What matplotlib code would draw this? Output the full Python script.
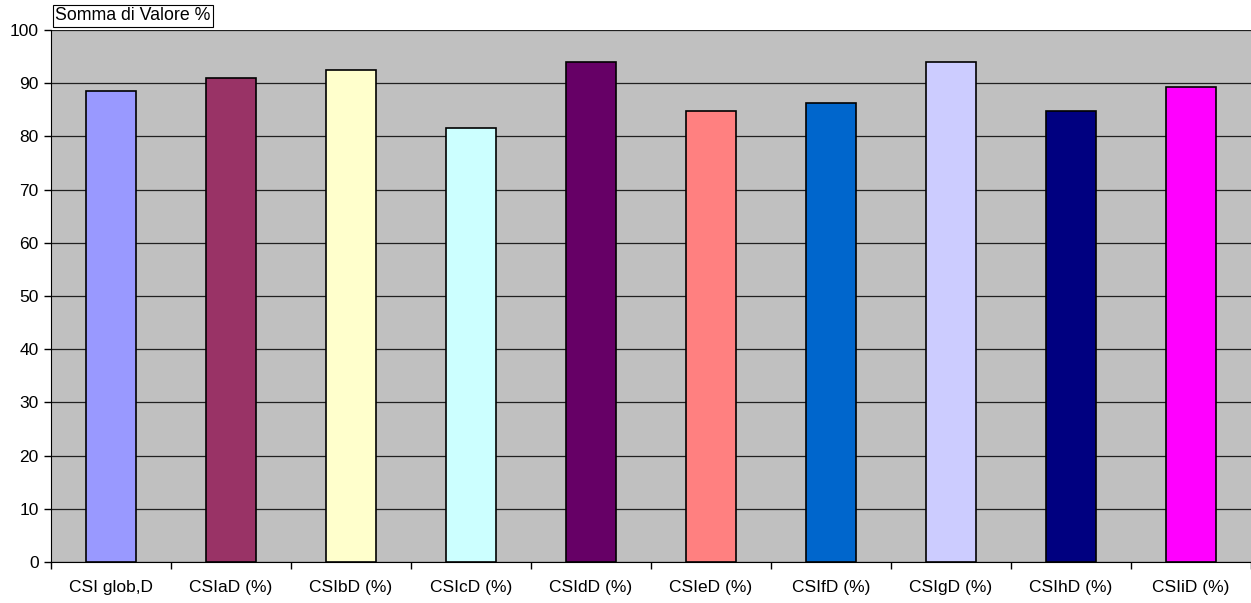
import matplotlib
matplotlib.use("Agg")
import matplotlib.pyplot as plt
import numpy as np

categories = ["CSI glob,D", "CSIaD (%)", "CSIbD (%)", "CSIcD (%)", "CSIdD (%)",
              "CSIeD (%)", "CSIfD (%)", "CSIgD (%)", "CSIhD (%)", "CSIiD (%)"]
values = [88.6, 90.9, 92.4, 81.5, 93.9, 84.7, 86.2, 93.9, 84.7, 89.3]
colors = ["#9999FF", "#993366", "#FFFFCC", "#CCFFFF", "#660066",
          "#FF8080", "#0066CC", "#CCCCFF", "#000080", "#FF00FF"]
y_ticks = list(range(0, 101, 10))

plt.rcParams["font.family"] = ["Liberation Sans", "DejaVu Sans"]

fig = plt.figure(figsize=(12.51, 6.03), dpi=100)
ax = fig.add_axes([51 / 1251, 41 / 603, 1200 / 1251, 532 / 603])
ax.set_facecolor("#C0C0C0")

x = np.arange(len(categories))
ax.bar(x, values, width=0.41, color=colors, edgecolor="black", linewidth=1.2, zorder=3)

ax.set_xlim(-0.5, len(categories) - 0.5)
ax.set_ylim(0, 100)
ax.set_yticks(y_ticks)
ax.set_yticklabels([str(v) for v in y_ticks], fontsize=12.5)
ax.yaxis.grid(True, color="#202020", linewidth=0.9, zorder=1)
ax.set_axisbelow(True)

# category labels centred, tick marks at category boundaries
ax.set_xticks(x)
ax.set_xticklabels(categories, fontsize=12.5)
ax.tick_params(axis="x", which="major", length=0, pad=13)
ax.set_xticks(np.arange(-0.5, len(categories) + 0.5, 1), minor=True)
ax.tick_params(axis="x", which="minor", length=5, width=1, direction="out")
ax.tick_params(axis="y", length=5, width=1, direction="out", pad=4)

for side in ("top", "right"):
    ax.spines[side].set_visible(False)
ax.spines["left"].set_color("black")
ax.spines["bottom"].set_color("black")

fig.text(55 / 1251, 1 - 16 / 603, "Somma di Valore %", fontsize=12.8, va="center", ha="left",
         bbox=dict(boxstyle="square,pad=0.12", facecolor="white", edgecolor="black", linewidth=0.8))

fig.savefig("out.png", dpi=100)
